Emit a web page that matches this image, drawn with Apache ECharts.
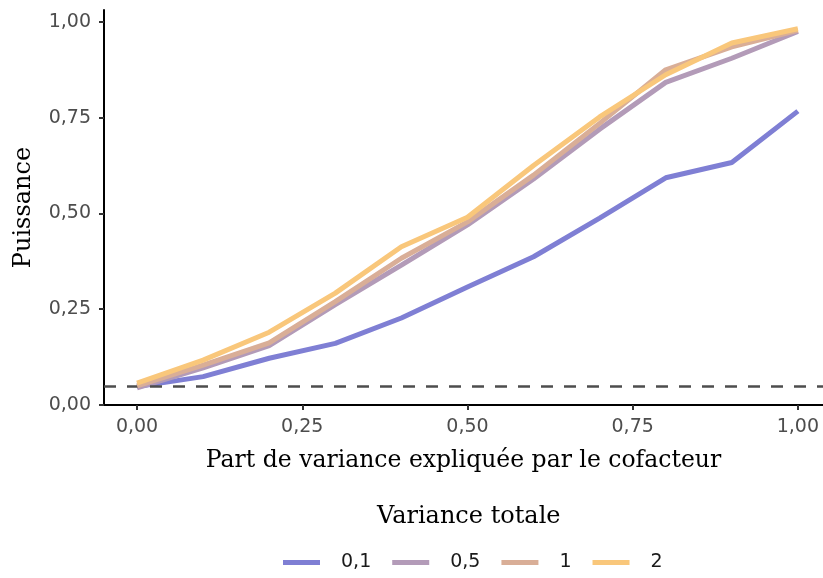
<!DOCTYPE html>
<html>
<head>
<meta charset="utf-8">
<script src="https://cdn.jsdelivr.net/npm/echarts@6/dist/echarts.min.js"></script>
<style>
  html, body { margin: 0; padding: 0; background: #fff; }
  #chart { width: 823px; height: 578px; }
</style>
</head>
<body>
<div id="chart"></div>
<script>
// part de variance expliquée par le cofacteur
const parts = [0, 0.1, 0.2, 0.3, 0.4, 0.5, 0.6, 0.7, 0.8, 0.9, 1.0]

// puissance par variance totale
const puissance01 = [0.048, 0.074, 0.122, 0.161, 0.227, 0.308, 0.387, 0.488, 0.593, 0.633, 0.767]
const puissance05 = [0.045, 0.097, 0.155, 0.262, 0.365, 0.470, 0.590, 0.720, 0.842, 0.905, 0.975]
const puissance1 = [0.050, 0.104, 0.162, 0.270, 0.383, 0.478, 0.600, 0.735, 0.875, 0.935, 0.978]
const puissance2 = [0.057, 0.117, 0.190, 0.292, 0.413, 0.490, 0.625, 0.752, 0.862, 0.945, 0.982]

const seriesNames = ['0,1', '0,5', '1', '2']
const seriesColors = ['#7f7fd4', '#b39bb8', '#d9ae97', '#f9c77b']
const ticks = [0, 0.25, 0.5, 0.75, 1]
const seuil = 0.05

const serif = 'DejaVu Serif'
const sans = 'DejaVu Sans'

const fmt = (v) => v.toFixed(2).replace('.', ',')
const toPoints = (vals) => parts.map((x, i) => [x, vals[i]])

const chart = echarts.init(document.getElementById('chart'))

const lineSeries = [puissance01, puissance05, puissance1, puissance2].map((vals, i) => ({
  name: seriesNames[i],
  type: 'line',
  data: toPoints(vals),
  showSymbol: false,
  symbol: 'none',
  lineStyle: { color: seriesColors[i], width: 5 },
  itemStyle: { color: seriesColors[i] },
  z: 3 + i
}))

// ligne du seuil 5 %
lineSeries[0].markLine = {
  silent: true,
  symbol: 'none',
  label: { show: false },
  lineStyle: { color: '#4d4d4d', width: 2.5, type: [12, 11] },
  data: [{ yAxis: seuil }]
}

const option = {
  animation: false,
  graphic: [{
    type: 'text',
    left: 377,
    top: 505,
    style: {
      text: 'Variance totale',
      fontFamily: serif,
      fontSize: 24,
      fill: '#000'
    }
  }],
  legend: {
    left: 278,
    top: 548,
    icon: 'rect',
    itemWidth: 37,
    itemHeight: 5,
    itemGap: 21,
    data: seriesNames,
    textStyle: { fontFamily: sans, fontSize: 19, color: '#1a1a1a', padding: [0, 0, 0, 16] }
  },
  grid: { left: 104, right: 0, top: 10, bottom: 173, containLabel: false, outerBoundsMode: 'none' },
  xAxis: {
    type: 'value',
    min: -0.05,
    max: 1.038,
    name: 'Part de variance expliquée par le cofacteur',
    nameLocation: 'middle',
    nameGap: 44,
    nameTextStyle: { fontFamily: serif, fontSize: 23.5, color: '#000' },
    axisLine: { show: true, onZero: false, lineStyle: { color: '#000', width: 2 } },
    axisTick: { show: true, length: 5, customValues: ticks, lineStyle: { color: '#333', width: 2 } },
    axisLabel: { customValues: ticks, formatter: fmt, margin: 13, fontFamily: sans, fontSize: 19, color: '#4d4d4d' },
    splitLine: { show: false }
  },
  yAxis: {
    type: 'value',
    min: 0,
    max: 1.031,
    name: 'Puissance',
    nameLocation: 'middle',
    nameGap: 68,
    nameTextStyle: { fontFamily: serif, fontSize: 24, color: '#000' },
    axisLine: { show: true, onZero: false, lineStyle: { color: '#000', width: 2 } },
    axisTick: { show: true, length: 5, customValues: ticks, lineStyle: { color: '#333', width: 2 } },
    axisLabel: { customValues: ticks, formatter: fmt, margin: 13, fontFamily: sans, fontSize: 19, color: '#4d4d4d' },
    splitLine: { show: false }
  },
  series: lineSeries
}

chart.setOption(option)
</script>
</body>
</html>
